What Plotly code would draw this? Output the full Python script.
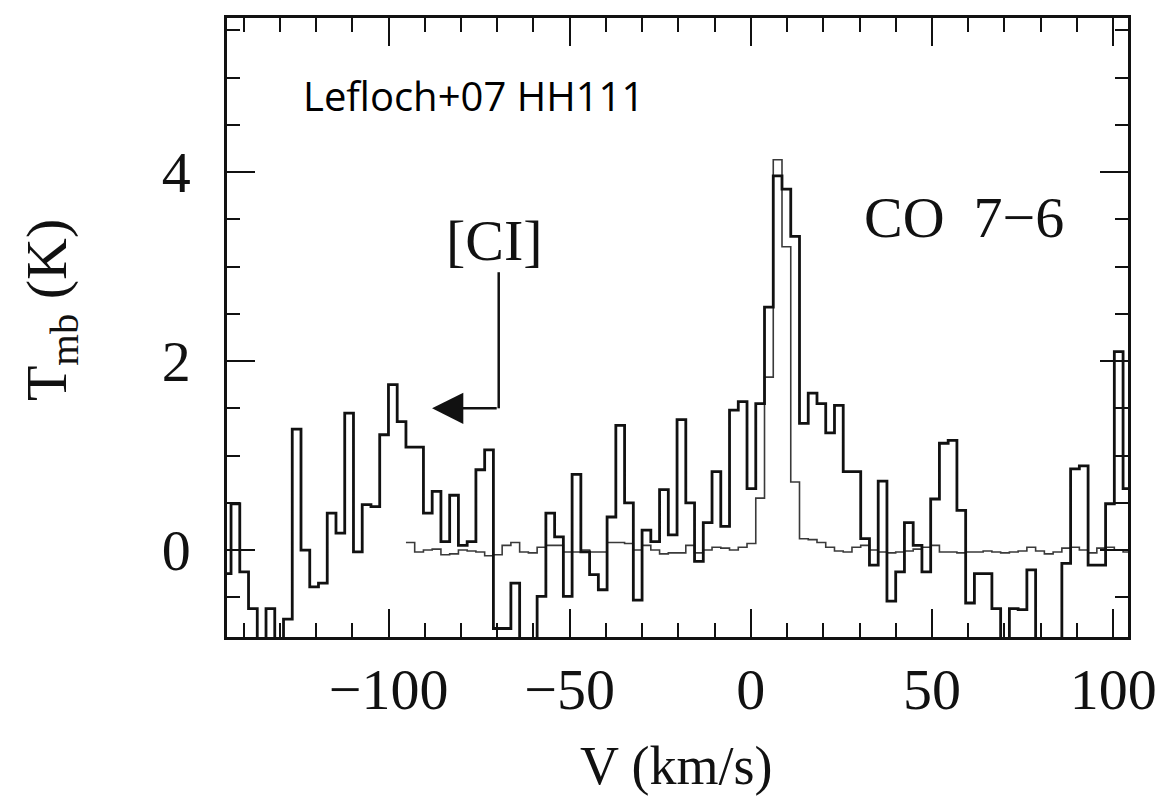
import numpy as np
import plotly.graph_objects as go

# Spectral channel grid (left edge of first channel, channel width in km/s)
v0_co = -145.9
dv = 2.414

# CO 7-6 spectrum (thick histogram), Tmb in K, one value per channel
T_co76 = [
    -0.25, 0.49, -0.23, -0.62, -1.30, -0.62, -1.30, -0.73, 1.28, 0.00,
    -0.39, -0.35, 0.39, 0.18, 1.45, -0.02, 0.48, 0.46, 1.22, 1.75,
    1.36, 1.09, 1.09, 0.39, 0.62, 0.09, 0.58, 0.05, 0.09, 0.85,
    1.06, -0.83, -0.83, -0.35, -1.30, -1.30, -0.49, 0.39, 0.14, -0.49,
    0.80, -0.02, -0.26, -0.42, 0.35, 1.32, 0.50, -0.53, 0.21, 0.09,
    0.64, 0.16, 1.38, 0.50, -0.12, 0.29, 0.83, 0.25, 1.48, 1.57,
    0.65, 1.55, 2.57, 3.96, 3.82, 3.32, 1.34, 1.66, 1.55, 1.24,
    1.53, 0.83, 0.83, 0.12, -0.16, 0.73, -0.54, -0.23, 0.29, 0.05,
    -0.23, 0.54, 1.13, 1.16, 0.42, -0.56, -0.25, -0.25, -0.62, -1.30,
    -0.62, -0.63, -0.21, -1.30, -1.30, -1.30, -0.14, 0.86, 0.89, -0.16,
    -0.16, 0.49, 2.10, 0.65,
]

# Second (thin, low-noise) spectrum, starts at channel index 21 of the same grid
thin_start_channel = 21
T_thin = [
    0.08, -0.02, 0.00, 0.01, -0.05, -0.04, 0.00, -0.01, -0.02, -0.06,
    -0.05, 0.05, 0.08, -0.02, -0.03, 0.03, 0.05, 0.05, -0.02, -0.02,
    0.00, -0.02, -0.02, 0.08, 0.08, 0.07, 0.00, 0.05, 0.00, -0.04,
    -0.03, -0.03, 0.05, -0.03, 0.00, 0.03, 0.02, 0.00, 0.03, 0.07,
    0.55, 1.83, 4.13, 3.21, 0.72, 0.12, 0.11, 0.08, 0.03, -0.01,
    -0.02, 0.03, 0.05, 0.00, -0.02, -0.03, -0.02, -0.01, 0.01, 0.03,
    0.05, -0.02, -0.02, -0.03, -0.02, -0.02, -0.01, -0.02, -0.03, -0.02,
    -0.01, 0.03, -0.01, -0.04, -0.02, 0.02, 0.03, 0.00, -0.03, 0.02,
    0.03, 0.00, -0.02,
]

x_range = [-144.6, 104.1]
y_range = [-0.92, 5.63]
x_tickvals = [-100, -50, 0, 50, 100]
x_ticktext = ["\u2212100", "\u221250", "0", "50", "100"]
y_tickvals = [0, 2, 4]

edges_co = v0_co + dv * np.arange(len(T_co76) + 1)
y_co = list(T_co76) + [T_co76[-1]]

v0_thin = v0_co + dv * thin_start_channel
edges_thin = v0_thin + dv * np.arange(len(T_thin) + 1)
y_thin = list(T_thin) + [T_thin[-1]]

SERIF = "Liberation Serif"
INK = "#111111"

fig = go.Figure()
fig.add_trace(go.Scatter(x=edges_thin, y=y_thin, mode="lines", line_shape="hv",
                         line=dict(color="#3a3a3a", width=1.6), hoverinfo="skip"))
fig.add_trace(go.Scatter(x=edges_co, y=y_co, mode="lines", line_shape="hv",
                         line=dict(color=INK, width=2.8), hoverinfo="skip"))

axis_common = dict(showline=True, linecolor=INK, linewidth=2.5, mirror="ticks",
                   ticks="inside", tickcolor=INK, tickwidth=2,
                   showgrid=False, zeroline=False)

fig.update_xaxes(range=x_range, tickvals=x_tickvals, ticktext=x_ticktext,
                 ticklen=28,
                 minor=dict(dtick=10, ticklen=14, ticks="inside", tickcolor=INK, tickwidth=2),
                 tickfont=dict(family=SERIF, size=58, color=INK),
                 **axis_common)
fig.update_yaxes(range=y_range, tickvals=y_tickvals, ticklen=28,
                 minor=dict(dtick=0.5, ticklen=13, ticks="inside", tickcolor=INK, tickwidth=2),
                 tickfont=dict(family=SERIF, size=58, color=INK),
                 ticklabelstandoff=22,
                 **axis_common)

annotations = [
    dict(text="V (km/s)", xref="paper", yref="paper", x=0.4994, y=-0.208,
         xanchor="center", yanchor="middle", showarrow=False,
         font=dict(family=SERIF, size=54, color=INK)),
    dict(text="T<sub>mb</sub> (K)", xref="paper", yref="paper", x=-0.1965, y=0.528,
         xanchor="center", yanchor="middle", showarrow=False, textangle=-90,
         font=dict(family=SERIF, size=58, color=INK)),
    dict(text="CO\u00a0\u00a07\u22126", xref="x", yref="y", x=58.8, y=3.52,
         xanchor="center", yanchor="middle", showarrow=False,
         font=dict(family=SERIF, size=58, color=INK)),
    dict(text="[CI]", xref="x", yref="y", x=-70.7, y=3.28,
         xanchor="center", yanchor="middle", showarrow=False,
         font=dict(family=SERIF, size=58, color=INK)),
    dict(text="Lefloch+07 HH111", xref="x", yref="y", x=-124.3, y=4.81,
         xanchor="left", yanchor="middle", showarrow=False,
         font=dict(family="Open Sans", size=40, color="#000000")),
    # arrow pointing to the [CI] feature
    dict(text=" ", xref="x", yref="y", x=-88.0, y=1.50,
         axref="x", ayref="y", ax=-69.6, ay=1.50,
         showarrow=True, arrowhead=2, arrowsize=2.5, arrowwidth=2.5, arrowcolor=INK,
         font=dict(size=2)),
]
fig.update_layout(annotations=annotations)
fig.add_shape(type="line", xref="x", yref="y", x0=-69.6, x1=-69.6, y0=1.50, y1=2.94,
              line=dict(color=INK, width=2.5))

fig.update_layout(width=1171, height=802, margin=dict(l=227, r=43, t=18, b=165),
                  paper_bgcolor="white", plot_bgcolor="white", showlegend=False)

fig.write_html("out.html")
